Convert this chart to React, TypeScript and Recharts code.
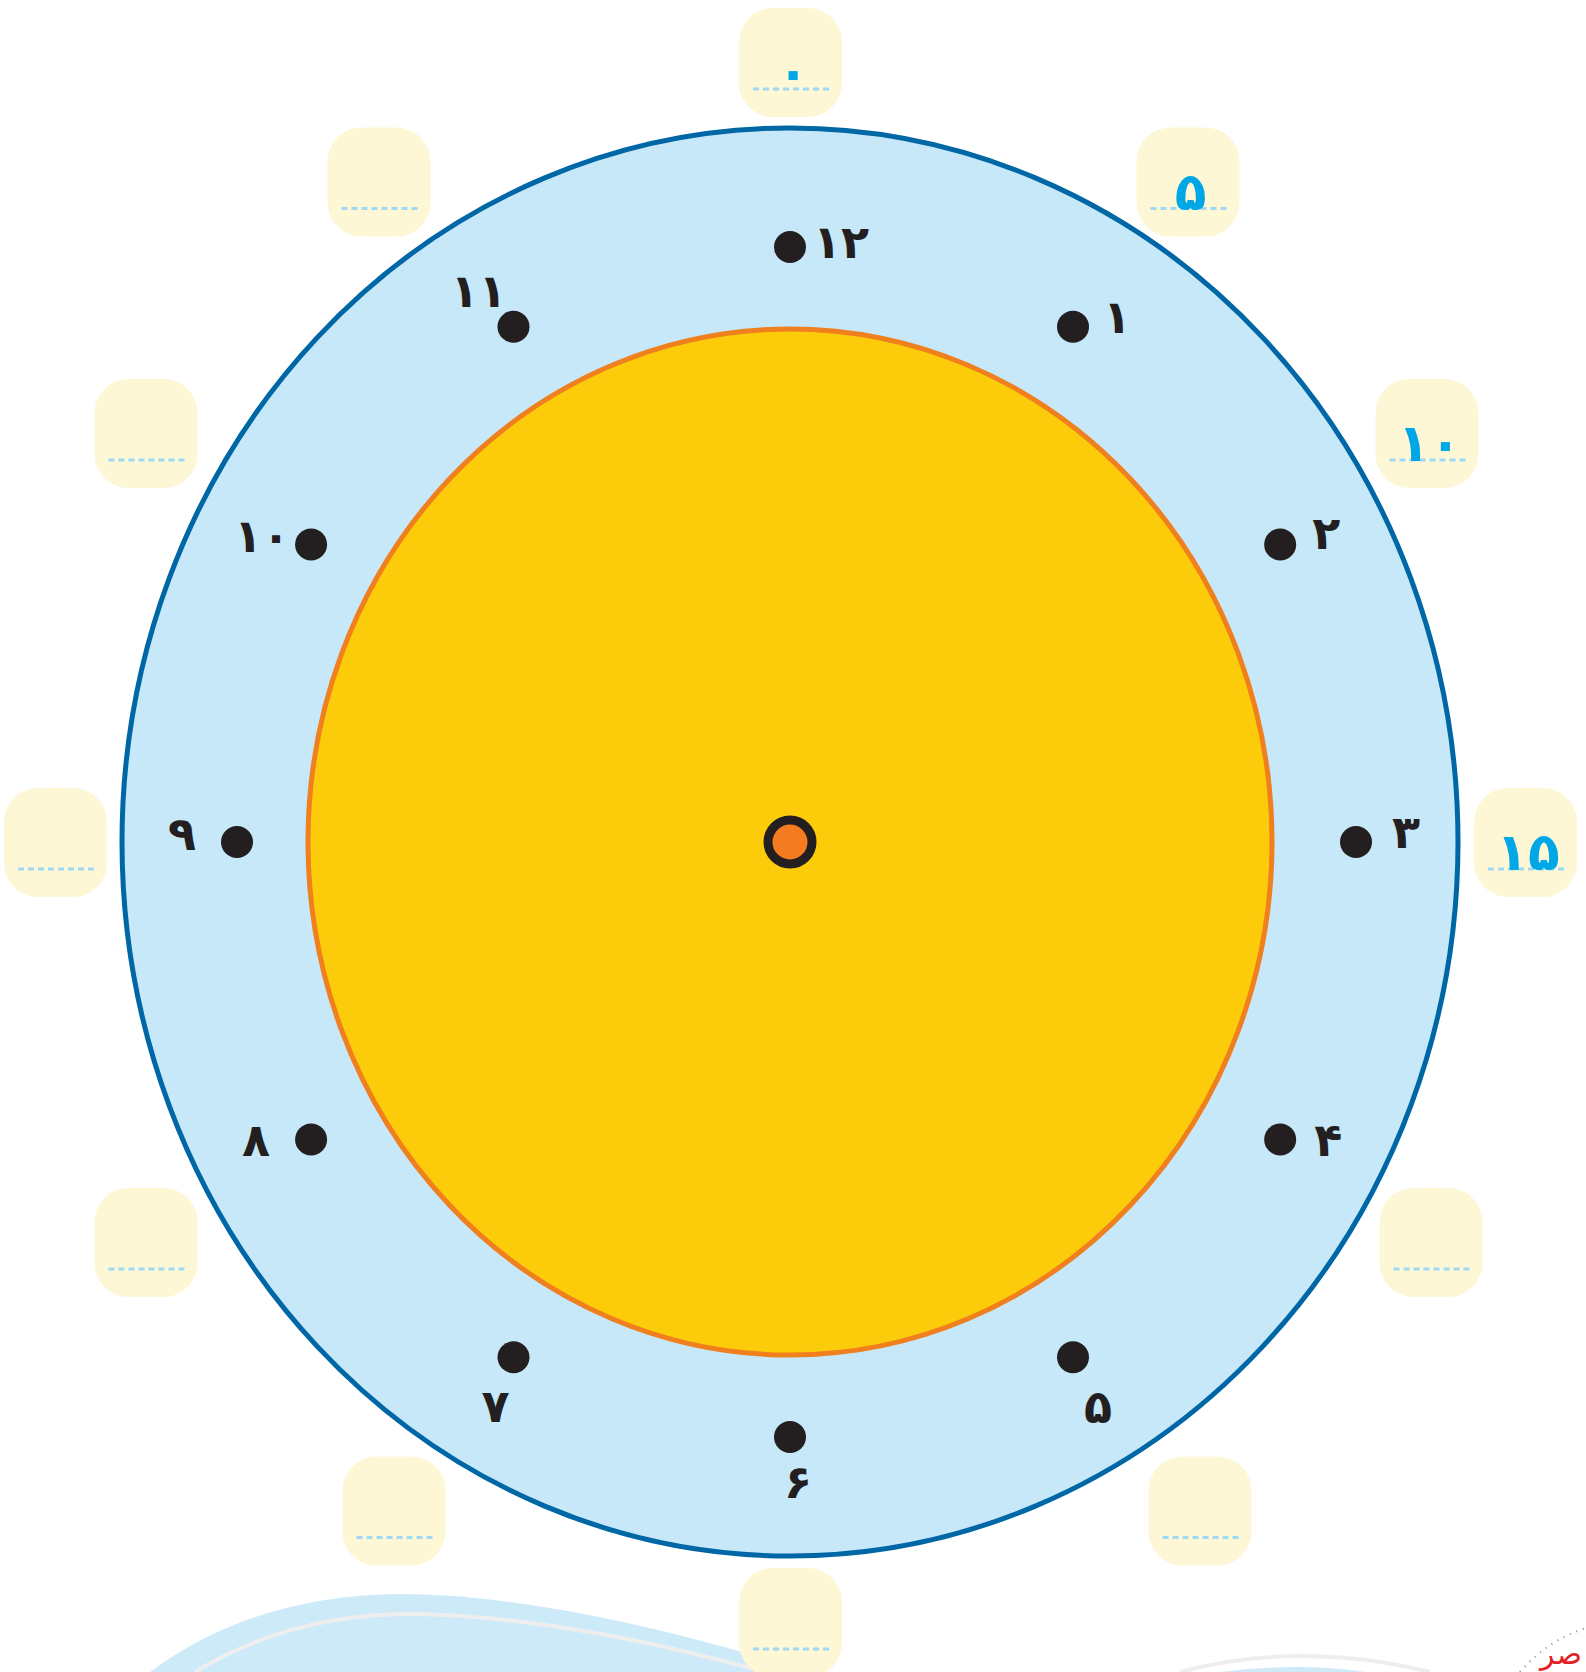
import { ScatterChart, Scatter, XAxis, YAxis } from 'recharts';

// clock hours, starting from the top and going clockwise
const hours = [12, 1, 2, 3, 4, 5, 6, 7, 8, 9, 10, 11];
const hourLabels = ['۱۲', '۱', '۲', '۳', '۴', '۵', '۶', '۷', '۸', '۹', '۱۰', '۱۱'];

// minute boxes round the rim, only the first four are filled in
const minutes = [0, 5, 10, 15, 20, 25, 30, 35, 40, 45, 50, 55];
const minuteLabels = ['۰', '۵', '۱۰', '۱۵', '', '', '', '', '', '', '', ''];

const W = 1586;
const H = 1672;
const CX = 790; // clock centre in pixels
const CY = 842;

// ellipse sizes (px)
const OUTER = { rx: 668, ry: 714 };
const INNER = { rx: 482, ry: 513 };
const DOT_R = { rx: 566, ry: 595 }; // right half of the dial
const DOT_L = { rx: 553, ry: 595 }; // left half sits a little tighter
const BOX = { rx: 735, ry: 780 };

// where each hour number sits relative to its dot (px, y down)
const labelNudge: [number, number][] = [
  [51, -5], [44, -10], [46, -12], [50, -10], [48, 0], [25, 50],
  [8, 45], [-18, 49], [-55, 0], [-55, -8], [-49, -9], [-35, -36],
];

// small hand-placement shifts of the minute boxes (px, y down)
const boxNudge: [number, number][] = [
  [0, 0], [30, 15], [0, -19], [0, 0], [4, 10], [42, -7],
  [0, 0], [-29, -7], [-8, 10], [0, 0], [-8, -19], [-44, 15],
];

const ink = '#231f20';
const blue = '#00a7e6';

const toXY = (deg: number, r: { rx: number; ry: number }) => {
  const a = (deg * Math.PI) / 180;
  return { x: r.rx * Math.sin(a), y: r.ry * Math.cos(a) };
};

const centre = [{ x: 0, y: 0 }];
const hourData = hours.map((h, i) => ({
  ...toXY(h * 30, h % 12 > 6 ? DOT_L : DOT_R),
  label: hourLabels[i],
  i,
}));
const boxData = minutes.map((m, i) => ({ ...toXY(m * 6, BOX), label: minuteLabels[i], i }));

const Face = (props: any) => {
  const { cx, cy } = props;
  return (
    <g>
      <ellipse cx={cx} cy={cy} rx={OUTER.rx} ry={OUTER.ry} fill="#c6e8f8" stroke="#0067a6" strokeWidth={5} />
      <ellipse cx={cx} cy={cy} rx={INNER.rx} ry={INNER.ry} fill="#fccc0a" stroke="#f07f1e" strokeWidth={5} />
    </g>
  );
};

const Hub = (props: any) => (
  <circle cx={props.cx} cy={props.cy} r={22} fill="#f47b20" stroke={ink} strokeWidth={9} />
);

const HourMark = (props: any) => {
  const { cx, cy, payload } = props;
  const [dx, dy] = labelNudge[payload.i];
  return (
    <g>
      <circle cx={cx} cy={cy} r={16} fill={ink} />
      <text
        x={cx + dx}
        y={cy + dy}
        textAnchor="middle"
        dominantBaseline="central"
        fontFamily="DejaVu Sans"
        fontWeight="bold"
        fontSize={46}
        fill={ink}
      >
        {payload.label}
      </text>
    </g>
  );
};

const MinuteBox = (props: any) => {
  const { payload } = props;
  const [nx, ny] = boxNudge[payload.i];
  const cx = props.cx + nx;
  const cy = props.cy + ny;
  return (
    <g>
      <rect x={cx - 51} y={cy - 54} width={103} height={109} rx={34} fill="#fdf7d6" />
      <line x1={cx - 37} x2={cx + 40} y1={cy + 27} y2={cy + 27} stroke="#9fd9f4" strokeWidth={3} strokeDasharray="6 4" />
      {payload.label && (
        <text
          x={cx + 3}
          y={cy + 28}
          textAnchor="middle"
          fontFamily="DejaVu Sans"
          fontWeight="bold"
          fontSize={52}
          fill={blue}
        >
          {payload.label}
        </text>
      )}
    </g>
  );
};

export default function App() {
  return (
    <div style={{ position: 'absolute', left: 0, top: 0, width: W, height: H, background: '#fff', overflow: 'hidden' }}>
      <svg width={W} height={H} style={{ position: 'absolute', left: 0, top: 0 }}>
        <path d="M150,1672 Q255,1594 405,1594 Q565,1596 810,1672 Z" fill="#cdeaf9" />
        <path d="M195,1672 Q292,1613 415,1614 Q565,1617 765,1672" fill="none" stroke="#eeeeee" strokeWidth={4} />
        <path d="M1220,1672 Q1300,1662 1365,1672 Z" fill="#cdeaf9" />
        <path d="M1180,1672 Q1300,1640 1430,1672" fill="none" stroke="#eeeeee" strokeWidth={4} />
        <path d="M1520,1672 Q1548,1640 1586,1628" fill="none" stroke="#888" strokeWidth={2} strokeDasharray="1 6" />
        <text x={1582} y={1664} textAnchor="end" fontFamily="DejaVu Sans" fontSize={30} fill="#e31e24">صر</text>
      </svg>
      <div style={{ position: 'absolute', left: 0, top: 0 }}>
        <ScatterChart width={W} height={H} margin={{ top: 0, right: 0, bottom: 0, left: 0 }}>
          <XAxis type="number" dataKey="x" domain={[-CX, W - CX]} allowDataOverflow hide />
          <YAxis type="number" dataKey="y" domain={[-(H - CY), CY]} allowDataOverflow hide />
          <Scatter data={centre} shape={Face} isAnimationActive={false} />
          <Scatter data={boxData} shape={MinuteBox} isAnimationActive={false} />
          <Scatter data={hourData} shape={HourMark} isAnimationActive={false} />
          <Scatter data={centre} shape={Hub} isAnimationActive={false} />
        </ScatterChart>
      </div>
    </div>
  );
}
